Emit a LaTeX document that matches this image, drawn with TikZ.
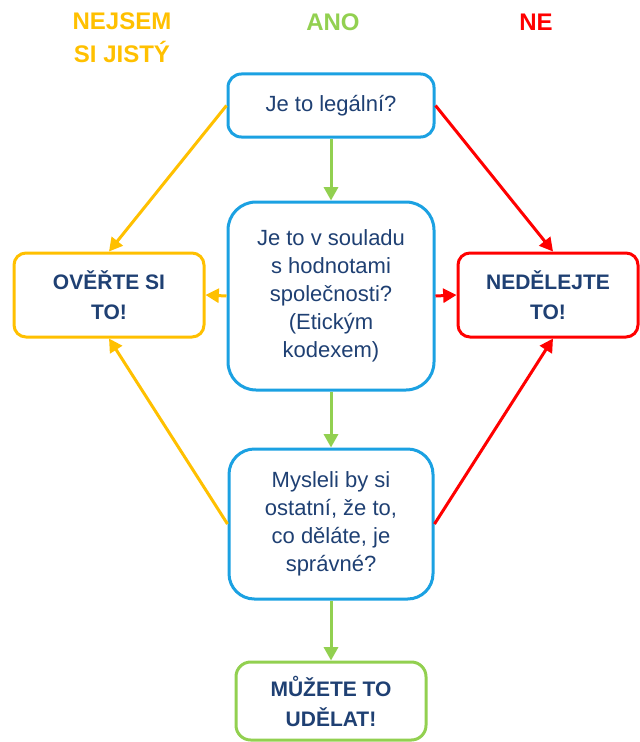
\documentclass[tikz,border=0pt]{standalone}
\usepackage{fontspec}
\setmainfont{Liberation Sans}
\usetikzlibrary{arrows.meta}
\definecolor{cblue}{RGB}{27,161,226}
\definecolor{ctext}{RGB}{31,64,115}
\definecolor{cyel}{RGB}{255,192,0}
\definecolor{cgreen}{RGB}{146,208,80}
\definecolor{cred}{RGB}{255,0,0}
\tikzset{
  qbox/.style={draw=cblue, line width=2.25pt, fill=white, align=center, text=ctext,
    font=\fontsize{16.5}{21}\selectfont, inner sep=0pt},
  abox/.style={line width=2.25pt, fill=white, align=center, text=ctext,
    font=\fontsize{15.75}{22.5}\selectfont\bfseries, inner sep=0pt, rounded corners=9pt},
  hdr/.style={align=center, font=\fontsize{18}{24.75}\selectfont\bfseries},
  arr/.style={line width=2.25pt, -{Triangle[length=10pt,width=10.5pt]}},
}
\begin{document}
\begin{tikzpicture}[x=0.75pt,y=-0.75pt]
\useasboundingbox (0,0) rectangle (639,742);
% headers
\node[hdr, text=cyel] (h1) at (122,38) {NEJSEM\\SI JISTÝ};
\node[hdr, text=cgreen] (h2) at (333,22) {ANO};
\node[hdr, text=cred] (h3) at (536,22) {NE};
% boxes
\node[qbox, rounded corners=10pt, minimum width=154.5pt, minimum height=47.25pt] (q1) at (331,105.5) {Je to legální?};
\node[qbox, rounded corners=21pt, minimum width=154.5pt, minimum height=141pt] (q2) at (331,296) {Je to v souladu\\s hodnotami\\společnosti?\\(Etickým\\kodexem)};
\node[qbox, rounded corners=19pt, minimum width=153pt, minimum height=112.5pt] (q3) at (331,524) {Mysleli by si\\ostatní, že to,\\co děláte, je\\správné?};
\node[abox, draw=cyel, minimum width=142.5pt, minimum height=63pt] (lb) at (109,295) {OVĚŘTE SI\\TO!};
\node[abox, draw=cred, minimum width=135pt, minimum height=63pt] (rb) at (548,295) {NEDĚLEJTE\\TO!};
\node[abox, draw=cgreen, minimum width=142.5pt, minimum height=58.5pt, rounded corners=11pt] (fb) at (331,701) {MŮŽETE TO\\UDĚLAT!};
% arrows
\draw[arr, cgreen] (q1.south) -- (q2.north);
\draw[arr, cgreen] (q2.south) -- (q3.north);
\draw[arr, cgreen] (q3.south) -- (fb.north);
\draw[arr, cyel] (q1.west) -- (lb.north);
\draw[arr, cyel] (q3.west) -- (lb.south);
\draw[arr, cyel] (q2.west) -- (lb.east);
\draw[arr, cred] (q1.east) -- ([xshift=3.75pt]rb.north);
\draw[arr, cred] (q3.east) -- ([xshift=3.75pt]rb.south);
\draw[arr, cred] (q2.east) -- (rb.west);
\end{tikzpicture}
\end{document}
